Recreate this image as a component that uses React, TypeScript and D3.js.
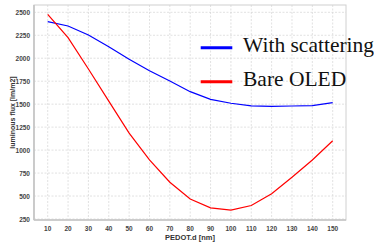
import * as d3 from "d3";
import React from "react";

const thickness = [10, 20, 30, 40, 50, 60, 70, 80, 90, 100, 110, 120, 130, 140, 150];
const withScattering = [2398, 2351, 2253, 2126, 1989, 1864, 1752, 1636, 1553, 1510, 1481, 1477, 1480, 1484, 1516];
const bareOled = [2478, 2224, 1883, 1533, 1185, 893, 650, 468, 372, 346, 397, 524, 704, 893, 1102];
const yTicks = [250, 500, 750, 1000, 1250, 1500, 1750, 2000, 2250, 2500];

const series = [
  { name: "With scattering", color: "#0000ff", values: withScattering },
  { name: "Bare OLED", color: "#ff0000", values: bareOled },
];

const W = 374;
const H = 243;
const left = 34;
const right = 346;
const top = 5;
const bottom = 220;

export default function App() {
  // scales fitted to the tick positions in the picture
  const x = d3.scaleLinear().domain([10, 150]).range([47.7, 332.7]);
  const y = d3.scaleLinear().domain([250, 2500]).range([219, 12.3]);

  const line = (vals: number[]) =>
    d3.line<number>()
      .x((_, i) => x(thickness[i]))
      .y(v => y(v))(vals) ?? "";

  return (
    <svg width={W} height={H} style={{ position: "absolute", left: 0, top: 0, background: "#fff" }}
      fontFamily="Liberation Sans, Arial, sans-serif">
      {/* grid */}
      <g stroke="#d4d4d4" strokeWidth={0.7} strokeDasharray="2,1.5">
        {thickness.map(t => (
          <line key={"gx" + t} x1={x(t)} x2={x(t)} y1={top} y2={bottom} />
        ))}
        {yTicks.map(t => (
          <line key={"gy" + t} x1={left} x2={right} y1={y(t)} y2={y(t)} />
        ))}
      </g>
      {/* frame */}
      <rect x={left} y={top} width={right - left} height={bottom - top} fill="none" stroke="#d0d0d0" strokeWidth={1} />
      <line x1={left} x2={left} y1={top} y2={bottom} stroke="#c4c4c4" strokeWidth={1.6} />
      <line x1={left} x2={right} y1={bottom} y2={bottom} stroke="#c4c4c4" strokeWidth={1.6} />

      {/* tick labels */}
      <g fontSize={6.5} fontWeight="bold" fill="#444">
        {yTicks.map(t => (
          <text key={"ty" + t} x={30} y={y(t)} textAnchor="end" dominantBaseline="central">{t}</text>
        ))}
        {thickness.map(t => (
          <text key={"tx" + t} x={x(t)} y={228} textAnchor="middle" dominantBaseline="central">{t}</text>
        ))}
      </g>
      <text x={190} y={237} textAnchor="middle" dominantBaseline="central" fontSize={7.5} fontWeight="bold" fill="#333">
        PEDOT.d [nm]
      </text>
      <text transform={`translate(12,${(top + bottom) / 2}) rotate(-90)`} textAnchor="middle" dominantBaseline="central"
        fontSize={7} fontWeight="bold" fill="#333">
        luminous flux [lm/m2]
      </text>

      {/* series */}
      {series.map(s => (
        <path key={s.name} d={line(s.values)} fill="none" stroke={s.color} strokeWidth={1.2} />
      ))}

      {/* legend */}
      {series.map((s, i) => (
        <g key={"lg" + s.name} transform={`translate(0,${47.7 + i * 34})`}>
          <line x1={200.7} x2={232.3} y1={0} y2={0} stroke={s.color} strokeWidth={3} />
          <text x={243} y={4.5} fontFamily="Liberation Serif, Times New Roman, serif" fontSize={21.5} fill="#111">
            {s.name}
          </text>
        </g>
      ))}
    </svg>
  );
}
